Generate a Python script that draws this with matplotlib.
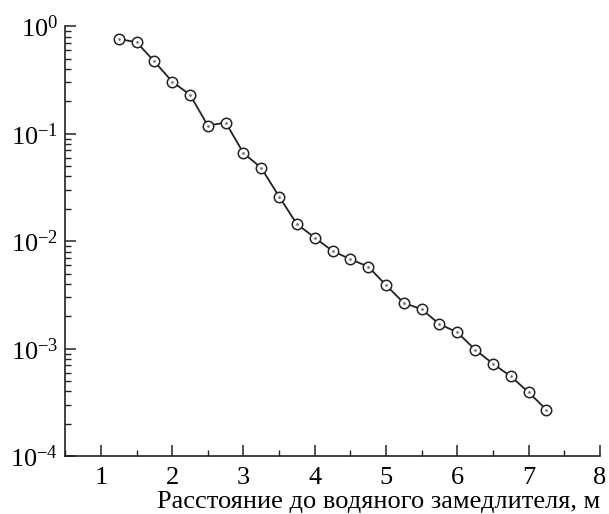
import matplotlib
matplotlib.use("Agg")
import matplotlib.pyplot as plt
import numpy as np
from matplotlib.ticker import LogLocator, MultipleLocator, NullFormatter

# distance to the water moderator, m
distance = [1.25, 1.5, 1.75, 2.0, 2.25, 2.5, 2.75, 3.0, 3.25, 3.5,
            3.75, 4.0, 4.25, 4.5, 4.75, 5.0, 5.25, 5.5, 5.75, 6.0,
            6.25, 6.5, 6.75, 7.0, 7.25]
# relative value
value = [0.76, 0.71, 0.47, 0.305, 0.23, 0.119, 0.127, 0.066, 0.048, 0.026,
         0.0144, 0.0108, 0.0081, 0.0068, 0.0058, 0.0039, 0.00266, 0.00233, 0.00169, 0.00142,
         0.00098, 0.000725, 0.000553, 0.000393, 0.000271]

xlabel = "Расстояние до водяного замедлителя, м"

plt.rcParams["font.family"] = ["Liberation Serif", "DejaVu Serif"]
plt.rcParams["mathtext.fontset"] = "stix"

fig = plt.figure(figsize=(6.09, 5.14), dpi=100)
ax = fig.add_axes([0.1072, 0.1125, 0.8778, 0.8365])

ax.plot(distance, value, color="#222222", lw=1.3, marker="o", ms=7.5,
        mfc="white", mec="#222222", mew=1.1, zorder=3)
ax.plot(distance, value, ls="none", marker="o", ms=1.0, color="#777777", zorder=4)

ax.set_yscale("log")
ax.set_ylim(1e-4, 1)
ax.set_xlim(0.5, 8)

ax.xaxis.set_major_locator(MultipleLocator(1))
ax.xaxis.set_minor_locator(MultipleLocator(0.5))
ax.yaxis.set_major_locator(LogLocator(base=10, numticks=10))
ax.yaxis.set_minor_locator(LogLocator(base=10, subs=np.arange(2, 10), numticks=10))
ax.yaxis.set_minor_formatter(NullFormatter())

for side in ("top", "right"):
    ax.spines[side].set_visible(False)
for side in ("left", "bottom"):
    ax.spines[side].set_linewidth(1.2)
    ax.spines[side].set_color("#222222")

ax.tick_params(which="major", direction="in", length=8, width=1.1,
               labelsize=19, color="#222222")
ax.tick_params(which="minor", direction="in", length=4, width=1.0, color="#222222")
ax.tick_params(axis="x", which="major", pad=8)
ax.tick_params(axis="y", which="major", pad=5)
ax.set_xticks([1, 2, 3, 4, 5, 6, 7, 8])
ax.set_xlabel(xlabel, fontsize=19, loc="right", labelpad=1)

fig.savefig("out.png", dpi=100)
